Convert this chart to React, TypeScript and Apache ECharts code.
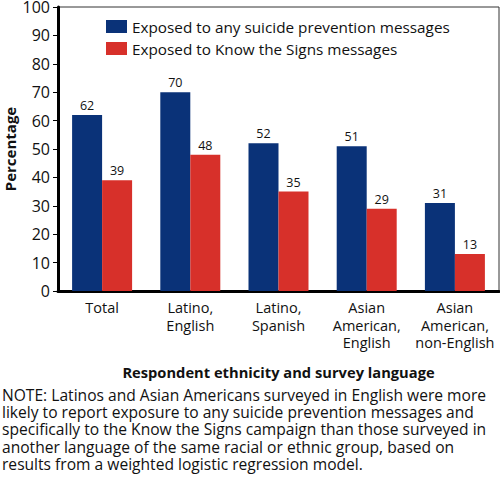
import React, { useEffect, useRef } from "react";
import * as echarts from "echarts";

const categories = ["Total", "Latino,\nEnglish", "Latino,\nSpanish", "Asian\nAmerican,\nEnglish", "Asian\nAmerican,\nnon-English"];
const anyMessages = [62, 70, 52, 51, 31];
const knowSigns = [39, 48, 35, 29, 13];
const seriesNames = ["Exposed to any suicide prevention messages", "Exposed to Know the Signs messages"];
const yTicks = { min: 0, max: 100, interval: 10 };
const noteLines = [
  "NOTE: Latinos and Asian Americans surveyed in English were more",
  "likely to report exposure to any suicide prevention messages and",
  "specifically to the Know the Signs campaign than those surveyed in",
  "another language of the same racial or ethnic group, based on",
  "results from a weighted logistic regression model.",
];

const FONT = "'Open Sans', 'Noto Sans', sans-serif";
const BLUE = "#0a3278";
const RED = "#d7302a";

export default function App() {
  const ref = useRef<HTMLDivElement>(null);
  useEffect(() => {
    document.body.style.margin = "0";
    const chart = echarts.init(ref.current!, null, { renderer: "svg" });
    chart.setOption({
      animation: false,
      textStyle: { fontFamily: FONT },
      grid: {
        left: 58, right: 1, top: 7, bottom: 196,
        outerBoundsMode: "none",
        containLabel: false,
        show: true, borderColor: "#333", borderWidth: 1,
      },
      legend: {
        orient: "vertical", left: 101, top: 14, itemWidth: 21, itemHeight: 13,
        itemGap: 7, icon: "rect",
        textStyle: { fontSize: 15.3, color: "#111", fontFamily: FONT },
      },
      xAxis: {
        type: "category", data: categories,
        name: "Respondent ethnicity and survey language",
        nameLocation: "middle", nameGap: 73,
        nameTextStyle: { fontSize: 14.7, fontWeight: "bold", color: "#111", fontFamily: FONT },
        axisLine: { lineStyle: { color: "#000", width: 3 } },
        axisTick: { show: false },
        axisLabel: { fontSize: 14.5, lineHeight: 17.5, color: "#111", margin: 8, interval: 0, fontFamily: FONT },
      },
      yAxis: {
        type: "value", min: yTicks.min, max: yTicks.max, interval: yTicks.interval,
        name: "Percentage", nameLocation: "middle", nameGap: 40, nameRotate: 90,
        nameMoveOverlap: false,
        nameTextStyle: { fontSize: 15, lineHeight: 16, fontWeight: "bold", color: "#111", fontFamily: FONT },
        axisLine: { show: true, lineStyle: { color: "#000", width: 3 } },
        axisTick: { show: true, length: 5, lineStyle: { color: "#000", width: 1 } },
        splitLine: { show: false },
        axisLabel: { fontSize: 16, lineHeight: 12, color: "#111", margin: 8, fontFamily: FONT },
      },
      series: [
        {
          name: seriesNames[0], type: "bar", data: anyMessages, barWidth: 30, barGap: "0%",
          itemStyle: { color: BLUE },
          label: { show: true, position: "top", fontSize: 12.5, color: "#111", distance: 3, fontFamily: FONT },
        },
        {
          name: seriesNames[1], type: "bar", data: knowSigns, barWidth: 30, barGap: "0%",
          itemStyle: { color: RED },
          label: { show: true, position: "top", fontSize: 12.5, color: "#111", distance: 3, fontFamily: FONT },
        },
      ],
      graphic: [
        {
          type: "text", left: 2, top: 386,
          style: {
            text: noteLines.join("\n"), fontSize: 15.6, lineHeight: 17.3,
            fill: "#111", fontFamily: FONT,
          },
        },
      ],
    });
    return () => chart.dispose();
  }, []);
  return <div ref={ref} style={{ width: 500, height: 487 }} />;
}
